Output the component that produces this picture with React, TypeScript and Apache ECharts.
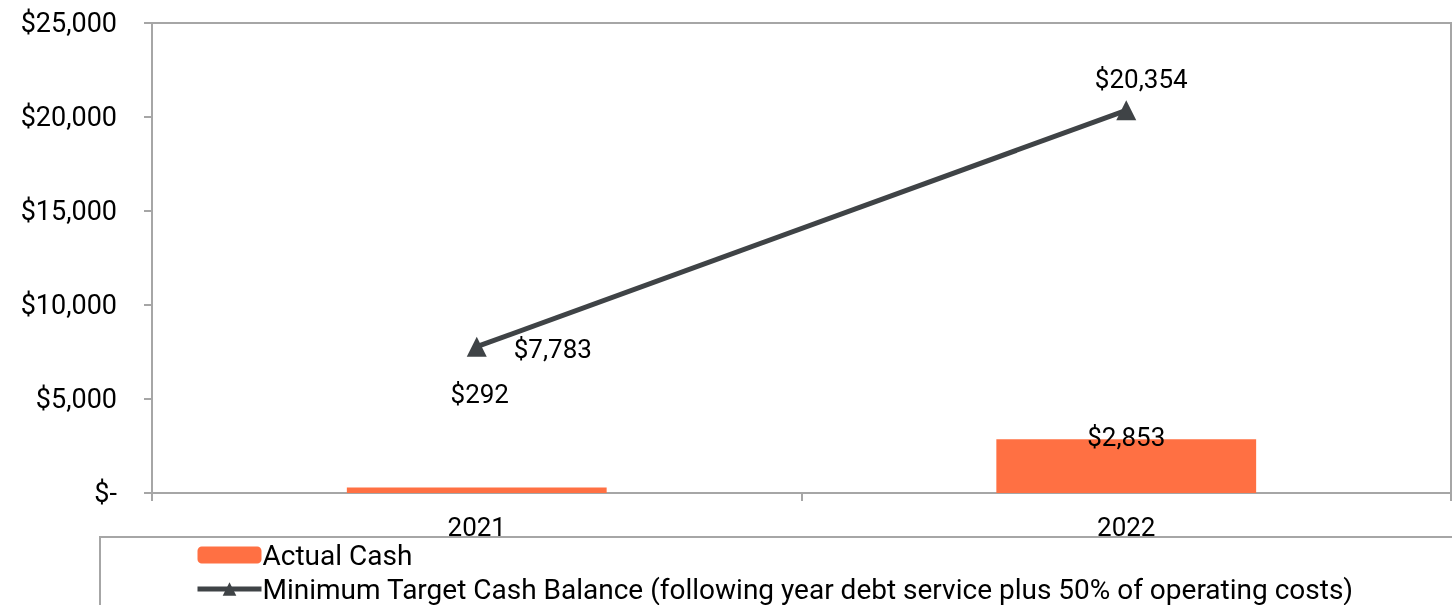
import React, { useEffect, useRef } from "react";
import * as echarts from "echarts";

const categories = ["2021", "2022"];
const actualCash = [292, 2853];
const minTarget = [7783, 20354];
const yTicks = [0, 5000, 10000, 15000, 20000, 25000];
const seriesNames = [
  "Actual Cash",
  "Minimum Target Cash Balance (following year debt service plus 50% of operating costs)",
];

const fmt = (v: number) => (v === 0 ? "$-" : "$" + v.toLocaleString("en-US"));

export default function App() {
  const ref = useRef<HTMLDivElement>(null);
  useEffect(() => {
    if (!ref.current) return;
    const chart = echarts.init(ref.current, undefined, { renderer: "svg" });
    const gray = "#A6A6A6";
    const dark = "#3F4346";
    const font = "Roboto";
    chart.setOption({
      animation: false,
      textStyle: { fontFamily: font },
      grid: {
        left: 152,
        top: 23,
        width: 1299,
        height: 470,
        show: true,
        borderColor: gray,
        borderWidth: 2,
        containLabel: false,
      },
      legend: {
        orient: "vertical",
        left: 195,
        top: 541,
        padding: 0,
        itemWidth: 64,
        itemHeight: 17,
        itemGap: 6,
        textStyle: {
          fontFamily: font,
          fontSize: 28,
          lineHeight: 28,
          color: "#000",
          padding: [0, 0, 0, -4],
        },
        data: [
          { name: seriesNames[0] },
          { name: seriesNames[1], lineStyle: { width: 5, color: dark } },
        ],
      },
      graphic: [
        {
          type: "polyline",
          shape: { points: [[100, 605], [100, 537], [1452, 537]] },
          style: { stroke: gray, lineWidth: 2, fill: "none" },
          silent: true,
        },
      ],
      xAxis: {
        type: "category",
        data: categories,
        axisLine: { lineStyle: { color: gray, width: 2 } },
        axisTick: { show: true, length: 8, lineStyle: { color: gray, width: 2 } },
        axisLabel: { fontSize: 26, color: "#000", margin: 21, fontFamily: font },
      },
      yAxis: {
        type: "value",
        min: yTicks[0],
        max: yTicks[yTicks.length - 1],
        interval: 5000,
        axisLine: { show: true, lineStyle: { color: gray, width: 2 } },
        axisTick: { show: true, length: 8, lineStyle: { color: gray, width: 2 } },
        splitLine: { show: false },
        axisLabel: {
          fontSize: 27,
          color: "#000",
          margin: 35,
          fontFamily: font,
          formatter: (v: number) => fmt(v),
        },
      },
      series: [
        {
          name: seriesNames[0],
          type: "bar",
          barWidth: "40%",
          itemStyle: { color: "#FF7043" },
          data: actualCash.map((v, i) => ({
            value: v,
            label:
              i === 0
                ? { show: true, position: "top", distance: 81, offset: [3, 0] }
                : { show: true, position: "top", distance: -11 },
          })),
          label: {
            show: true,
            fontSize: 26,
            color: "#000",
            fontFamily: font,
            formatter: (p: any) => fmt(p.value),
          },
          z: 2,
        },
        {
          name: seriesNames[1],
          type: "line",
          symbol: "triangle",
          symbolSize: 20,
          lineStyle: { color: dark, width: 5 },
          itemStyle: { color: dark },
          data: minTarget.map((v, i) => ({
            value: v,
            label:
              i === 0
                ? { show: true, position: "right", distance: 27, offset: [0, 2] }
                : { show: true, position: "top", distance: 8, offset: [15, 0] },
          })),
          label: {
            show: true,
            fontSize: 26,
            color: "#000",
            fontFamily: font,
            formatter: (p: any) => fmt(p.value),
          },
          z: 3,
        },
      ],
    });
    return () => chart.dispose();
  }, []);
  return (
    <div
      ref={ref}
      style={{ position: "fixed", left: 0, top: 0, width: 1452, height: 605 }}
    />
  );
}
